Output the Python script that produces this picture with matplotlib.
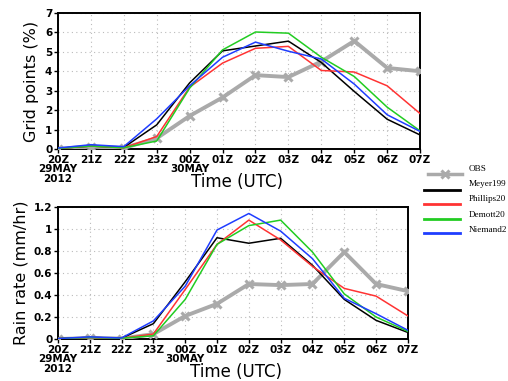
import matplotlib
matplotlib.use("Agg")
import matplotlib.pyplot as plt
from matplotlib.lines import Line2D

times = ["20Z\n29MAY\n2012", "21Z", "22Z", "23Z", "00Z\n30MAY", "01Z",
         "02Z", "03Z", "04Z", "05Z", "06Z", "07Z"]
x = list(range(len(times)))

# grid points (%)
gp_obs = [0.0, 0.12, 0.05, 0.55, 1.7, 2.65, 3.8, 3.7, 4.5, 5.56, 4.17, 4.0]
gp_meyer = [0.03, 0.15, 0.08, 1.24, 3.4, 5.05, 5.3, 5.55, 4.45, 2.96, 1.53, 0.72]
gp_phillips = [0.03, 0.15, 0.06, 0.64, 3.18, 4.42, 5.18, 5.28, 4.04, 3.96, 3.25, 1.82]
gp_demott = [0.03, 0.15, 0.06, 0.41, 3.13, 5.1, 6.02, 5.96, 4.72, 3.73, 2.15, 0.93]
gp_niemand = [0.05, 0.22, 0.12, 1.55, 3.25, 4.72, 5.5, 5.03, 4.63, 3.34, 1.76, 0.9]

# rain rate (mm/hr)
rr_obs = [0.0, 0.01, 0.005, 0.045, 0.21, 0.32, 0.5, 0.49, 0.5, 0.79, 0.5, 0.435]
rr_meyer = [0.005, 0.015, 0.008, 0.14, 0.52, 0.92, 0.87, 0.915, 0.67, 0.36, 0.17, 0.06]
rr_phillips = [0.005, 0.015, 0.008, 0.046, 0.45, 0.86, 1.08, 0.9, 0.66, 0.46, 0.39, 0.21]
rr_demott = [0.005, 0.015, 0.008, 0.03, 0.36, 0.86, 1.03, 1.08, 0.79, 0.41, 0.2, 0.07]
rr_niemand = [0.005, 0.02, 0.01, 0.165, 0.48, 0.99, 1.14, 0.98, 0.73, 0.37, 0.23, 0.08]

names = ["OBS", "Meyer199", "Phillips20", "Demott20", "Niemand2"]
colors = ["#aaaaaa", "black", "#ff3333", "#22cc22", "#1f3dff"]

tickfont = dict(family="Liberation Sans Narrow", weight="bold", size=7.5)

fig = plt.figure(figsize=(5.08, 3.81), dpi=100)
ax1 = fig.add_axes([0.114, 0.609, 0.713, 0.357])
ax2 = fig.add_axes([0.114, 0.110, 0.689, 0.347])


def draw(ax, series, ymax, yticks, ylab):
    obs = series[0]
    ax.plot(x, obs, color=colors[0], lw=2.8, marker="x", ms=6, mew=2.2, zorder=3)
    for s, c in zip(series[1:], colors[1:]):
        ax.plot(x, s, color=c, lw=1.1, zorder=4)
    ax.set_xlim(0, 11)
    ax.set_ylim(0, ymax)
    ax.set_xticks(x)
    ax.set_xticklabels(times, fontdict=tickfont, linespacing=0.95)
    ax.set_yticks(yticks)
    ax.set_yticklabels([("%g" % v) for v in yticks], fontdict=tickfont)
    ax.tick_params(direction="out", length=3, width=1, pad=1)
    ax.grid(True, color="#bbbbbb", ls=(0, (1, 3)), lw=0.8)
    for sp in ax.spines.values():
        sp.set_linewidth(1.4)
    ax.set_ylabel(ylab, fontsize=11.5, labelpad=4)
    ax.set_xlabel("Time (UTC)", fontsize=12)
    ax.xaxis.label.set_va("center")


draw(ax1, [gp_obs, gp_meyer, gp_phillips, gp_demott, gp_niemand], 7,
     [0, 1, 2, 3, 4, 5, 6, 7], "Grid points (%)")
draw(ax2, [rr_obs, rr_meyer, rr_phillips, rr_demott, rr_niemand], 1.2,
     [0, 0.2, 0.4, 0.6, 0.8, 1, 1.2], "Rain rate (mm/hr)")
ax1.xaxis.set_label_coords(0.495, -0.24)
ax2.xaxis.set_label_coords(0.51, -0.25)

# legend drawn by hand, to the right of the panels
W, H = 508.0, 381.0
line_y = [174, 190, 204, 219, 233]
text_y = [169, 184, 199, 215, 230]
for i, (name, c) in enumerate(zip(names, colors)):
    if i == 0:
        fig.add_artist(Line2D([428 / W, 462 / W], [1 - line_y[i] / H] * 2,
                              color=c, lw=2.5, transform=fig.transFigure))
        fig.add_artist(Line2D([445 / W], [1 - line_y[i] / H], color=c,
                              marker="x", ms=6, mew=2.2,
                              transform=fig.transFigure))
    else:
        fig.add_artist(Line2D([424 / W, 460 / W], [1 - line_y[i] / H] * 2,
                              color=c, lw=2, transform=fig.transFigure))
    fig.text(469 / W, 1 - text_y[i] / H, name, family="Liberation Serif",
             fontsize=6.6, va="center", ha="left")

fig.savefig("out.png", dpi=100)
